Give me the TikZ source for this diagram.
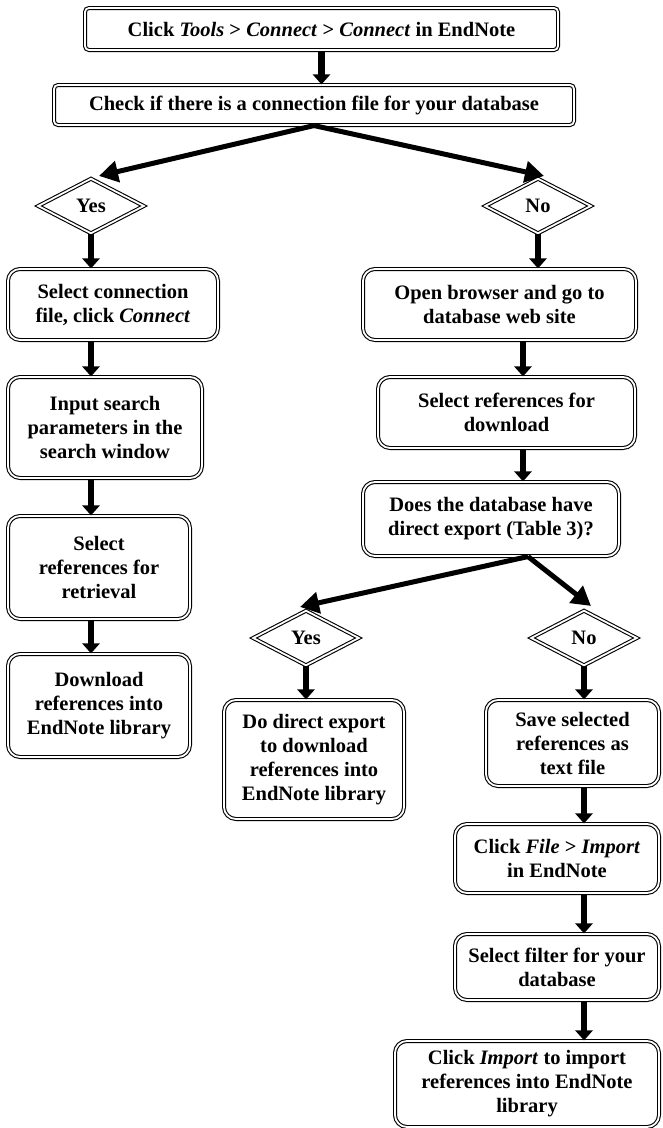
\documentclass[tikz,border=0pt]{standalone}
\usepackage{fontspec}
\setmainfont{Liberation Serif}
\usetikzlibrary{shapes.geometric,arrows.meta}

\begin{document}
\begin{tikzpicture}[x=1pt,y=-1pt,font=\fontsize{20.5}{24}\selectfont\bfseries,
	box/.style={draw,double,double distance=1.8pt,line width=1.1pt,rounded corners=12pt,align=center,inner sep=0pt},
	flat/.style={box,rounded corners=4pt},
	answer/.style={diamond,draw,double,double distance=1.8pt,line width=1.1pt,inner sep=0pt,minimum width=106pt,minimum height=55pt},
	down/.style={-{Triangle[length=10pt,width=17pt]},line width=6.5pt},
	split/.style={-{Triangle[length=19pt,width=21pt]},line width=5pt}]
	\useasboundingbox (0,0) rectangle (662,1128);

	% top of the chart
	\node[flat,minimum width=473pt,minimum height=42pt] (start) at (321.5,29) {Click \textit{Tools} > \textit{Connect} > \textit{Connect} in EndNote};
	\node[flat,minimum width=520pt,minimum height=40pt] (check) at (314,105) {Check if there is a connection file for your database};
	\node[answer] (yes_1) at (91,206) {Yes};
	\node[answer] (no_1) at (538,206) {No};

	% connection file exists
	\node[box,minimum width=210pt,minimum height=71pt] (left_1) at (113,304.5) {Select connection\\file, click \textit{Connect}};
	\node[box,minimum width=194pt,minimum height=101pt] (left_2) at (105,427.5) {Input search\\parameters in the\\search window};
	\node[box,minimum width=182pt,minimum height=103pt] (left_3) at (99,567.5) {Select\\references for\\retrieval};
	\node[box,minimum width=182pt,minimum height=103pt] (left_4) at (99,705.5) {Download\\references into\\EndNote library};

	% no connection file
	\node[box,minimum width=273pt,minimum height=71pt] (right_1) at (499.5,304.5) {Open browser and go to\\database web site};
	\node[box,minimum width=257pt,minimum height=71pt] (right_2) at (506.5,412.5) {Select references for\\download};
	\node[box,minimum width=256pt,minimum height=74pt] (right_3) at (491,519) {Does the database have\\direct export (Table 3)?};
	\node[answer] (yes_2) at (306,638) {Yes};
	\node[answer] (no_2) at (584,638) {No};
	\node[box,minimum width=180pt,minimum height=119pt] (right_4) at (314,759.5) {Do direct export\\to download\\references into\\EndNote library};
	\node[box,minimum width=173pt,minimum height=86pt] (right_5) at (572.5,743) {Save selected\\references as\\text file};
	\node[box,minimum width=204pt,minimum height=69pt] (right_6) at (557,858.5) {Click \textit{File} > \textit{Import}\\in EndNote};
	\node[box,minimum width=204pt,minimum height=66pt] (right_7) at (557,967) {Select filter for your\\database};
	\node[box,minimum width=264pt,minimum height=86pt] (right_8) at (527,1084) {Click \textit{Import} to import\\references into EndNote\\library};

	% arrows
	\draw[down] (start.south) -- (start.south |- check.north);
	\draw[split] (check.south) -- ([shift={(8pt,2pt)}]yes_1.north);
	\draw[split] (check.south) -- ([shift={(6pt,2pt)}]no_1.north);

	\draw[down] (yes_1.south) -- (yes_1.south |- left_1.north);
	\foreach \a/\b in {left_1/left_2,left_2/left_3,left_3/left_4} {
		\draw[down] (\a.south -| yes_1) -- (\b.north -| yes_1);
	}

	\draw[down] (no_1.south) -- (no_1.south |- right_1.north);
	\draw[down] ([xshift=23.5pt]right_1.south) -- ([xshift=16.5pt]right_2.north);
	\draw[down] ([xshift=16.5pt]right_2.south) -- ([xshift=32pt]right_3.north);
	\draw[split] ([xshift=37pt]right_3.south) -- ([shift={(-6pt,3pt)}]yes_2.north);
	\draw[split] ([xshift=37pt]right_3.south) -- ([shift={(7pt,4pt)}]no_2.north);

	\draw[down] (yes_2.south) -- (yes_2.south |- right_4.north);
	\foreach \a/\b in {no_2/right_5,right_5/right_6,right_6/right_7,right_7/right_8} {
		\draw[down] (\a.south -| no_2) -- (\b.north -| no_2);
	}
\end{tikzpicture}
\end{document}
